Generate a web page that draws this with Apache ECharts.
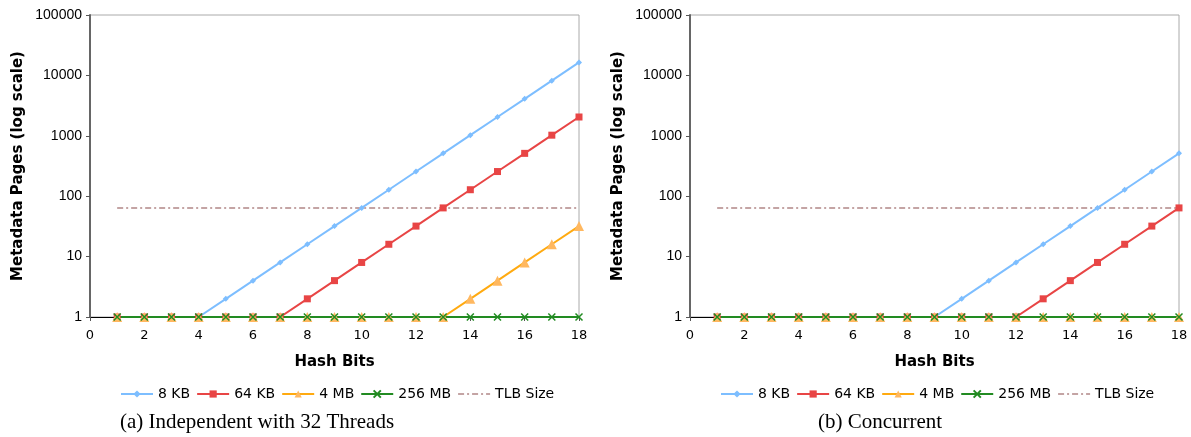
<!DOCTYPE html>
<html>
<head>
<meta charset="utf-8">
<script src="https://cdn.jsdelivr.net/npm/echarts@6/dist/echarts.min.js"></script>
<style>
  html, body { margin: 0; padding: 0; background: #fff; }
  #chart { width: 1191px; height: 437px; }
</style>
</head>
<body>
<div id="chart"></div>
<script>
// hash bits on x
var hashBits = [1, 2, 3, 4, 5, 6, 7, 8, 9, 10, 11, 12, 13, 14, 15, 16, 17, 18];

// (a) Independent with 32 Threads
var indep8KB   = [1, 1, 1, 1, 2, 4, 8, 16, 32, 64, 128, 256, 512, 1024, 2048, 4096, 8192, 16384];
var indep64KB  = [1, 1, 1, 1, 1, 1, 1, 2, 4, 8, 16, 32, 64, 128, 256, 512, 1024, 2048];
var indep4MB   = [1, 1, 1, 1, 1, 1, 1, 1, 1, 1, 1, 1, 1, 2, 4, 8, 16, 32];
var indep256MB = [1, 1, 1, 1, 1, 1, 1, 1, 1, 1, 1, 1, 1, 1, 1, 1, 1, 1];

// (b) Concurrent
var conc8KB   = [1, 1, 1, 1, 1, 1, 1, 1, 1, 2, 4, 8, 16, 32, 64, 128, 256, 512];
var conc64KB  = [1, 1, 1, 1, 1, 1, 1, 1, 1, 1, 1, 1, 2, 4, 8, 16, 32, 64];
var conc4MB   = [1, 1, 1, 1, 1, 1, 1, 1, 1, 1, 1, 1, 1, 1, 1, 1, 1, 1];
var conc256MB = [1, 1, 1, 1, 1, 1, 1, 1, 1, 1, 1, 1, 1, 1, 1, 1, 1, 1];

// TLB size (constant)
var tlbSize = [64, 64, 64, 64, 64, 64, 64, 64, 64, 64, 64, 64, 64, 64, 64, 64, 64, 64];

var seriesNames = ['8 KB', '64 KB', '4 MB', '256 MB', 'TLB Size'];
var captions = ['(a) Independent with 32 Threads', '(b) Concurrent'];

function pairs(ys) {
    var out = [];
    for (var i = 0; i < hashBits.length; i++) out.push([hashBits[i], ys[i]]);
    return out;
}

var crossPath = 'path://M0,0L10,10M10,0L0,10';

function makeSeries(idx, d8, d64, d4, d256) {
    return [
        { name: '8 KB', type: 'line', xAxisIndex: idx, yAxisIndex: idx, data: pairs(d8),
          symbol: 'diamond', symbolSize: 6, lineStyle: { color: '#7DBEFF', width: 2 },
          itemStyle: { color: '#7DBEFF' } },
        { name: '64 KB', type: 'line', xAxisIndex: idx, yAxisIndex: idx, data: pairs(d64),
          symbol: 'rect', symbolSize: 7, lineStyle: { color: '#E84545', width: 2 },
          itemStyle: { color: '#E84545' } },
        { name: '4 MB', type: 'line', xAxisIndex: idx, yAxisIndex: idx, data: pairs(d4),
          symbol: 'triangle', symbolSize: 10, lineStyle: { color: '#FFAA10', width: 2 },
          itemStyle: { color: '#FFB860' } },
        { name: '256 MB', type: 'line', xAxisIndex: idx, yAxisIndex: idx, data: pairs(d256),
          symbol: crossPath, symbolSize: 7, lineStyle: { color: '#228B22', width: 2 },
          itemStyle: { color: '#228B22', borderColor: '#228B22', borderWidth: 1.5 } },
        { name: 'TLB Size', type: 'line', xAxisIndex: idx, yAxisIndex: idx, data: pairs(tlbSize),
          symbol: 'none', lineStyle: { color: '#C4A4A4', width: 2, type: [6, 3, 2, 3] },
          itemStyle: { color: '#C4A4A4' } }
    ];
}

function xAx(idx) {
    return {
        type: 'value', gridIndex: idx, min: 0, max: 18, interval: 2,
        name: 'Hash Bits', nameLocation: 'middle', nameGap: 38,
        nameTextStyle: { fontFamily: 'DejaVu Sans', fontWeight: 'bold', fontSize: 15, color: '#000' },
        axisLine: { onZero: false, lineStyle: { color: '#000', width: 1 } },
        axisTick: { show: true, length: 4, lineStyle: { color: '#555' } },
        axisLabel: { fontFamily: 'DejaVu Sans', fontSize: 13, color: '#000', margin: 12 },
        splitLine: { show: false }
    };
}

function yAx(idx) {
    return {
        type: 'log', logBase: 10, gridIndex: idx, min: 1, max: 100000,
        name: 'Metadata Pages (log scale)', nameLocation: 'middle', nameGap: 64,
        nameTextStyle: { fontFamily: 'DejaVu Sans', fontWeight: 'bold', fontSize: 15, color: '#000' },
        axisLine: { show: true, lineStyle: { color: '#666', width: 2 } },
        axisTick: { show: true, length: 4, lineStyle: { color: '#555' } },
        axisLabel: { fontFamily: 'Liberation Sans', fontSize: 14, color: '#000', margin: 8,
                     formatter: function (v) { return String(v); } },
        splitLine: { show: false }
    };
}

function legendAt(idx, left) {
    return {
        data: seriesNames.map(function (n) {
            if (n === 'TLB Size') return { name: n, itemStyle: { opacity: 0 } };
            return { name: n };
        }),
        top: 382, left: left, itemWidth: 32, itemHeight: 9, itemGap: 6,
        textStyle: { fontFamily: 'DejaVu Sans', fontSize: 14, color: '#000' },
        selectedMode: false
    };
}

var chart = echarts.init(document.getElementById('chart'), null, { renderer: 'canvas' });

var option = {
    animation: false,
    backgroundColor: '#fff',
    grid: [
        { left: 90, right: 612, top: 15, bottom: 120, show: true, borderColor: '#aaa', borderWidth: 1 },
        { left: 690, right: 12, top: 15, bottom: 120, show: true, borderColor: '#aaa', borderWidth: 1 }
    ],
    xAxis: [xAx(0), xAx(1)],
    yAxis: [yAx(0), yAx(1)],
    legend: [legendAt(0, 115), legendAt(1, 715)],
    series: makeSeries(0, indep8KB, indep64KB, indep4MB, indep256MB)
        .concat(makeSeries(1, conc8KB, conc64KB, conc4MB, conc256MB)),
    graphic: [
        { type: 'text', left: 120, top: 412,
          style: { text: captions[0], font: '21px "Liberation Serif"', fill: '#000' } },
        { type: 'text', left: 818, top: 412,
          style: { text: captions[1], font: '21px "Liberation Serif"', fill: '#000' } }
    ]
};

chart.setOption(option);
</script>
</body>
</html>
